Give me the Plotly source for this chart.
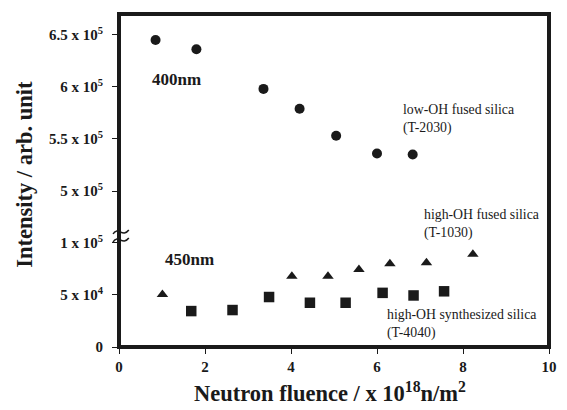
import plotly.graph_objects as go

# ---- data ----
x_lowOH = [0.85, 1.80, 3.36, 4.20, 5.05, 6.00, 6.83]
y_lowOH = [6.45e5, 6.36e5, 5.98e5, 5.79e5, 5.53e5, 5.36e5, 5.35e5]

x_highOH_fused = [1.01, 4.02, 4.86, 5.58, 6.30, 7.15, 8.23]
y_highOH_fused = [5.05e4, 6.8e4, 6.8e4, 7.45e4, 8.0e4, 8.1e4, 8.9e4]

x_highOH_syn = [1.68, 2.64, 3.49, 4.44, 5.27, 6.13, 6.85, 7.56]
y_highOH_syn = [3.45e4, 3.55e4, 4.8e4, 4.25e4, 4.25e4, 5.2e4, 4.95e4, 5.35e4]

x_ticks = [0, 2, 4, 6, 8, 10]
y_low_ticks = [0, 5e4, 1e5]
y_low_labels = ["0", "5 x 10<sup>4</sup>", "1 x 10<sup>5</sup>"]
y_high_ticks = [5e5, 5.5e5, 6e5, 6.5e5]
y_high_labels = ["5 x 10<sup>5</sup>", "5.5 x 10<sup>5</sup>", "6 x 10<sup>5</sup>", "6.5 x 10<sup>5</sup>"]

FONT = "Liberation Serif"
INK = "#1a1a1a"
OFF = 8                      # default page margin of the html body
PX0, PX1 = 119, 557          # plot area in page pixels
PY0, PY1 = 14, 347
W, H = 567 - 2 * OFF, 410 - 2 * OFF
L, T = PX0 - OFF, PY0 - OFF
R = W - L - (PX1 - PX0)
B = H - T - (PY1 - PY0)
PW, PH = PX1 - PX0, PY1 - PY0
SPLIT = 0.3333

fig = go.Figure()
fig.add_trace(go.Scatter(x=x_lowOH, y=y_lowOH, mode="markers", yaxis="y2",
                         marker=dict(symbol="circle", size=10, color=INK)))
fig.add_trace(go.Scatter(x=x_highOH_fused, y=y_highOH_fused, mode="markers", yaxis="y",
                         marker=dict(symbol="triangle-up", size=10, color=INK)))
fig.add_trace(go.Scatter(x=x_highOH_syn, y=y_highOH_syn, mode="markers", yaxis="y",
                         marker=dict(symbol="square", size=10.5, color=INK)))

tickfont = dict(family=FONT, size=15, color=INK, weight="bold")
axcommon = dict(showgrid=False, zeroline=False, showline=False, ticks="outside",
                ticklen=6, tickwidth=1, tickcolor=INK, tickfont=tickfont)

def px2paper(px, py):
    return (px - PX0) / PW, (PY1 - py) / PH

def wave(cx, cy):
    pts = [(cx - 8, cy + 2), (cx - 4, cy - 6), (cx + 2, cy + 6), (cx + 8, cy - 2)]
    p = [px2paper(*q) for q in pts]
    return f"M {p[0][0]},{p[0][1]} C {p[1][0]},{p[1][1]} {p[2][0]},{p[2][1]} {p[3][0]},{p[3][1]}"

shapes = [
    dict(type="rect", xref="paper", yref="paper", x0=0, x1=1, y0=0, y1=1,
         line=dict(color=INK, width=4), layer="above"),
    dict(type="path", xref="paper", yref="paper", path=wave(121, 232),
         line=dict(color=INK, width=1.5)),
    dict(type="path", xref="paper", yref="paper", path=wave(121, 240),
         line=dict(color=INK, width=1.5)),
]

def ann(text, px, py, size, bold=False):
    x, y = px2paper(px, py)
    return dict(text=text, x=x, y=y, xref="paper", yref="paper", showarrow=False,
                xanchor="left", yanchor="middle", align="left",
                font=dict(family=FONT, size=size, color=INK,
                          weight="bold" if bold else "normal"))

annotations = [
    ann("400nm", 151, 80, 17, bold=True),
    ann("450nm", 164, 259, 17, bold=True),
    ann("low-OH fused silica<br>(T-2030)", 406, 119, 13.8),
    ann("high-OH fused silica<br>(T-1030)", 428, 224, 13.8),
    ann("high-OH synthesized silica<br>(T-4040)", 390, 324, 13.8),
]
xt, yt = px2paper(22, 174)
annotations.append(dict(text="Intensity / arb. unit", x=xt, y=yt, xref="paper", yref="paper",
                        showarrow=False, textangle=-90, xanchor="center", yanchor="middle",
                        font=dict(family=FONT, size=22.5, color=INK, weight="bold")))
xt2, yt2 = px2paper(334, 392)
annotations.append(dict(text="Neutron fluence / x 10<sup>18</sup>n/m<sup>2</sup>", x=xt2, y=yt2,
                        xref="paper", yref="paper", showarrow=False,
                        xanchor="center", yanchor="middle",
                        font=dict(family=FONT, size=22.5, color=INK, weight="bold")))

fig.update_layout(
    width=W, height=H, margin=dict(l=L, r=R, t=T, b=B, pad=0),
    paper_bgcolor="white", plot_bgcolor="white", showlegend=False,
    xaxis=dict(range=[0, 10], tickvals=x_ticks, ticktext=[str(v) for v in x_ticks],
               anchor="y", ticklabeloverflow="allow", **axcommon),
    yaxis=dict(domain=[0, SPLIT], range=[0, 1.066e5], tickvals=y_low_ticks,
               ticktext=y_low_labels, anchor="x", ticklabelstandoff=6, **axcommon),
    yaxis2=dict(domain=[SPLIT, 1], range=[4.568e5, 6.699e5], tickvals=y_high_ticks,
                ticktext=y_high_labels, anchor="x", ticklabelstandoff=6, **axcommon),
    shapes=shapes, annotations=annotations,
)

fig.write_html(
    "out.html",
    config={"displayModeBar": False},
    post_script="document.querySelectorAll('svg.main-svg').forEach(function(s){s.style.overflow='visible';});",
)
